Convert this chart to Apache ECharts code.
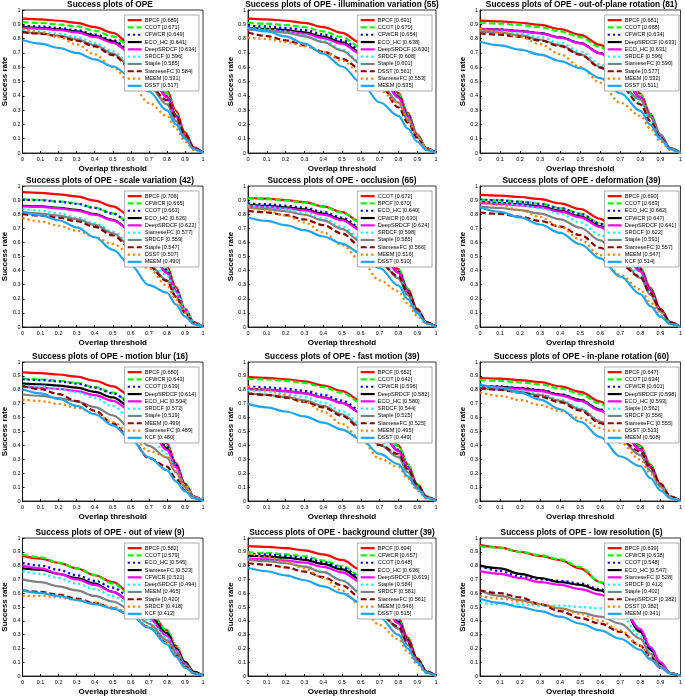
<!DOCTYPE html>
<html><head><meta charset="utf-8">
<script src="https://cdn.jsdelivr.net/npm/echarts@6/dist/echarts.min.js"></script>
<style>html,body{margin:0;padding:0;background:#fff}#c{width:685px;height:700px}</style>
</head><body><div id="c"></div>
<script>
// Overlap thresholds at which the success rates were read
const X = [0,0.1,0.2,0.3,0.4,0.5,0.6,0.7,0.8,0.85,0.9,0.95,1];

const P1_title = 'Success plots of OPE';
const P1_trackers = ['BPCF','CCOT','CFWCR','ECO_HC','DeepSRDCF','SRDCF','Staple','SiameseFC','MEEM','DSST'];
const P1_scores = [0.689,0.671,0.649,0.641,0.634,0.596,0.585,0.584,0.531,0.517];
const P1_curves = [
[0.94,0.935,0.925,0.91,0.88,0.84,0.76,0.63,0.44,0.295,0.145,0.04,0],
[0.915,0.91,0.90,0.885,0.855,0.815,0.745,0.625,0.42,0.275,0.13,0.033,0],
[0.89,0.885,0.875,0.86,0.83,0.79,0.72,0.60,0.40,0.265,0.125,0.032,0],
[0.88,0.875,0.865,0.85,0.82,0.78,0.71,0.59,0.395,0.26,0.12,0.03,0],
[0.875,0.87,0.86,0.843,0.812,0.77,0.70,0.58,0.39,0.255,0.12,0.03,0],
[0.86,0.85,0.835,0.81,0.77,0.71,0.62,0.49,0.35,0.23,0.11,0.03,0],
[0.846,0.836,0.82,0.795,0.755,0.695,0.605,0.475,0.34,0.225,0.11,0.03,0],
[0.845,0.835,0.815,0.785,0.745,0.685,0.595,0.475,0.37,0.25,0.13,0.035,0],
[0.87,0.845,0.81,0.76,0.69,0.60,0.49,0.35,0.26,0.17,0.08,0.02,0],
[0.79,0.765,0.735,0.70,0.655,0.605,0.535,0.43,0.30,0.20,0.10,0.025,0]];

const P2_title = 'Success plots of OPE - illumination variation (55)';
const P2_trackers = ['BPCF','CCOT','CFWCR','ECO_HC','DeepSRDCF','SRDCF','Staple','DSST','SiameseFC','MEEM'];
const P2_scores = [0.691,0.670,0.654,0.638,0.630,0.608,0.601,0.561,0.553,0.535];
const P2_curves = [
[0.94,0.935,0.925,0.91,0.88,0.84,0.77,0.65,0.42,0.28,0.13,0.033,0],
[0.91,0.905,0.895,0.88,0.85,0.81,0.74,0.62,0.41,0.27,0.125,0.031,0],
[0.89,0.885,0.875,0.86,0.83,0.79,0.72,0.60,0.40,0.264,0.122,0.03,0],
[0.874,0.869,0.859,0.844,0.814,0.774,0.704,0.584,0.392,0.258,0.119,0.03,0],
[0.864,0.859,0.849,0.834,0.804,0.764,0.694,0.574,0.388,0.255,0.118,0.03,0],
[0.875,0.865,0.85,0.825,0.785,0.725,0.635,0.505,0.356,0.234,0.112,0.03,0],
[0.866,0.856,0.841,0.816,0.776,0.716,0.626,0.496,0.352,0.232,0.111,0.03,0],
[0.843,0.818,0.788,0.753,0.708,0.658,0.588,0.483,0.32,0.213,0.107,0.027,0],
[0.807,0.797,0.777,0.747,0.707,0.647,0.557,0.437,0.353,0.239,0.124,0.033,0],
[0.875,0.85,0.815,0.765,0.695,0.605,0.495,0.355,0.26,0.17,0.08,0.02,0]];

const P3_title = 'Success plots of OPE - out-of-plane rotation (81)';
const P3_trackers = ['BPCF','CCOT','CFWCR','DeepSRDCF','ECO_HC','SRDCF','SiameseFC','Staple','MEEM','DSST'];
const P3_scores = [0.681,0.668,0.634,0.633,0.631,0.596,0.590,0.577,0.532,0.511];
const P3_curves = [
[0.926,0.921,0.911,0.896,0.866,0.826,0.756,0.636,0.416,0.274,0.126,0.032,0],
[0.91,0.905,0.895,0.88,0.85,0.81,0.74,0.62,0.408,0.269,0.124,0.031,0],
[0.869,0.864,0.854,0.839,0.809,0.769,0.699,0.579,0.39,0.257,0.118,0.03,0],
[0.868,0.863,0.853,0.838,0.808,0.768,0.698,0.578,0.39,0.256,0.118,0.03,0],
[0.866,0.861,0.851,0.836,0.806,0.766,0.696,0.576,0.389,0.256,0.118,0.03,0],
[0.86,0.85,0.835,0.81,0.77,0.71,0.62,0.49,0.35,0.23,0.11,0.03,0],
[0.852,0.842,0.822,0.792,0.752,0.692,0.602,0.482,0.373,0.252,0.131,0.035,0],
[0.837,0.827,0.812,0.787,0.747,0.687,0.597,0.467,0.34,0.224,0.107,0.029,0],
[0.871,0.846,0.811,0.761,0.691,0.601,0.491,0.351,0.26,0.17,0.08,0.02,0],
[0.778,0.753,0.723,0.688,0.643,0.593,0.523,0.418,0.295,0.197,0.098,0.025,0]];

const P4_title = 'Success plots of OPE - scale variation (42)';
const P4_trackers = ['BPCF','CFWCR','CCOT','ECO_HC','DeepSRDCF','SiameseFC','SRDCF','Staple','DSST','MEEM'];
const P4_scores = [0.706,0.665,0.663,0.626,0.623,0.577,0.559,0.547,0.507,0.490];
const P4_curves = [
[0.956,0.951,0.941,0.926,0.896,0.856,0.786,0.666,0.43,0.283,0.13,0.033,0],
[0.906,0.901,0.891,0.876,0.846,0.806,0.736,0.616,0.407,0.268,0.124,0.031,0],
[0.904,0.899,0.889,0.874,0.844,0.804,0.734,0.614,0.406,0.267,0.123,0.031,0],
[0.86,0.855,0.845,0.83,0.80,0.76,0.69,0.57,0.386,0.254,0.117,0.029,0],
[0.856,0.851,0.841,0.826,0.796,0.756,0.686,0.566,0.384,0.253,0.117,0.029,0],
[0.836,0.826,0.806,0.776,0.736,0.676,0.586,0.466,0.366,0.247,0.129,0.035,0],
[0.815,0.805,0.79,0.765,0.725,0.665,0.575,0.445,0.332,0.218,0.104,0.028,0],
[0.80,0.79,0.775,0.75,0.71,0.65,0.56,0.43,0.326,0.214,0.102,0.028,0],
[0.773,0.748,0.718,0.683,0.638,0.588,0.518,0.413,0.294,0.196,0.098,0.024,0],
[0.817,0.792,0.757,0.707,0.637,0.547,0.437,0.297,0.244,0.16,0.075,0.019,0]];

const P5_title = 'Success plots of OPE - occlusion (65)';
const P5_trackers = ['CCOT','BPCF','ECO_HC','CFWCR','DeepSRDCF','SRDCF','Staple','SiameseFC','MEEM','DSST'];
const P5_scores = [0.672,0.670,0.640,0.630,0.624,0.598,0.585,0.566,0.516,0.510];
const P5_curves = [
[0.915,0.91,0.90,0.885,0.855,0.815,0.745,0.625,0.41,0.27,0.125,0.031,0],
[0.912,0.907,0.897,0.882,0.852,0.812,0.742,0.622,0.41,0.27,0.124,0.031,0],
[0.876,0.871,0.861,0.846,0.816,0.776,0.706,0.586,0.393,0.259,0.119,0.03,0],
[0.864,0.859,0.849,0.834,0.804,0.764,0.694,0.574,0.388,0.255,0.118,0.03,0],
[0.857,0.852,0.842,0.827,0.797,0.757,0.687,0.567,0.385,0.253,0.117,0.029,0],
[0.862,0.852,0.837,0.812,0.772,0.712,0.622,0.492,0.351,0.231,0.11,0.03,0],
[0.846,0.836,0.821,0.796,0.756,0.696,0.606,0.476,0.344,0.226,0.108,0.03,0],
[0.823,0.813,0.793,0.763,0.723,0.663,0.573,0.453,0.36,0.244,0.127,0.034,0],
[0.851,0.826,0.791,0.741,0.671,0.581,0.471,0.331,0.254,0.166,0.078,0.02,0],
[0.777,0.752,0.722,0.687,0.642,0.592,0.522,0.417,0.295,0.197,0.098,0.025,0]];

const P6_title = 'Success plots of OPE - deformation (39)';
const P6_trackers = ['BPCF','CCOT','ECO_HC','CFWCR','DeepSRDCF','SRDCF','Staple','SiameseFC','MEEM','KCF'];
const P6_scores = [0.690,0.663,0.662,0.647,0.641,0.622,0.591,0.557,0.547,0.514];
const P6_curves = [
[0.937,0.932,0.922,0.907,0.877,0.837,0.767,0.647,0.42,0.277,0.128,0.032,0],
[0.904,0.899,0.889,0.874,0.844,0.804,0.734,0.614,0.406,0.267,0.123,0.031,0],
[0.903,0.898,0.888,0.873,0.843,0.803,0.733,0.613,0.405,0.267,0.123,0.031,0],
[0.885,0.88,0.87,0.855,0.825,0.785,0.715,0.595,0.397,0.261,0.121,0.03,0],
[0.878,0.873,0.863,0.848,0.818,0.778,0.708,0.588,0.394,0.259,0.12,0.03,0],
[0.892,0.882,0.867,0.842,0.802,0.742,0.652,0.522,0.363,0.239,0.114,0.031,0],
[0.854,0.844,0.829,0.804,0.764,0.704,0.614,0.484,0.348,0.228,0.109,0.03,0],
[0.812,0.802,0.782,0.752,0.712,0.652,0.562,0.442,0.356,0.24,0.125,0.034,0],
[0.89,0.865,0.83,0.78,0.71,0.62,0.51,0.37,0.266,0.174,0.082,0.02,0],
[0.847,0.817,0.777,0.727,0.667,0.587,0.487,0.357,0.233,0.148,0.074,0.021,0]];

const P7_title = 'Success plots of OPE - motion blur (16)';
const P7_trackers = ['BPCF','CFWCR','CCOT','DeepSRDCF','ECO_HC','SRDCF','Staple','MEEM','SiameseFC','KCF'];
const P7_scores = [0.680,0.643,0.639,0.614,0.594,0.573,0.519,0.499,0.489,0.480];
const P7_curves = [
[0.925,0.92,0.91,0.895,0.865,0.825,0.755,0.635,0.415,0.273,0.126,0.032,0],
[0.88,0.875,0.865,0.85,0.82,0.78,0.71,0.59,0.395,0.26,0.12,0.03,0],
[0.875,0.87,0.86,0.845,0.815,0.775,0.705,0.585,0.393,0.259,0.119,0.03,0],
[0.845,0.84,0.83,0.815,0.785,0.745,0.675,0.555,0.379,0.25,0.115,0.029,0],
[0.821,0.816,0.806,0.791,0.761,0.721,0.651,0.531,0.368,0.243,0.112,0.028,0],
[0.832,0.822,0.807,0.782,0.742,0.682,0.592,0.462,0.339,0.223,0.106,0.029,0],
[0.766,0.756,0.741,0.716,0.676,0.616,0.526,0.396,0.312,0.205,0.098,0.027,0],
[0.829,0.804,0.769,0.719,0.649,0.559,0.449,0.309,0.248,0.162,0.076,0.019,0],
[0.729,0.719,0.699,0.669,0.629,0.569,0.479,0.359,0.319,0.216,0.112,0.03,0],
[0.804,0.774,0.734,0.684,0.624,0.544,0.444,0.314,0.221,0.141,0.07,0.02,0]];

const P8_title = 'Success plots of OPE - fast motion (39)';
const P8_trackers = ['BPCF','CCOT','CFWCR','DeepSRDCF','ECO_HC','SRDCF','Staple','SiameseFC','MEEM','DSST'];
const P8_scores = [0.652,0.642,0.596,0.582,0.580,0.544,0.525,0.525,0.495,0.449];
const P8_curves = [
[0.891,0.886,0.876,0.861,0.831,0.791,0.721,0.601,0.40,0.263,0.121,0.03,0],
[0.879,0.874,0.864,0.849,0.819,0.779,0.709,0.589,0.395,0.26,0.12,0.03,0],
[0.823,0.818,0.808,0.793,0.763,0.723,0.653,0.533,0.369,0.243,0.112,0.028,0],
[0.806,0.801,0.791,0.776,0.746,0.706,0.636,0.516,0.362,0.238,0.11,0.027,0],
[0.804,0.799,0.789,0.774,0.744,0.704,0.634,0.514,0.361,0.238,0.11,0.027,0],
[0.797,0.787,0.772,0.747,0.707,0.647,0.557,0.427,0.324,0.213,0.102,0.028,0],
[0.774,0.764,0.749,0.724,0.684,0.624,0.534,0.404,0.315,0.207,0.099,0.027,0],
[0.773,0.763,0.743,0.713,0.673,0.613,0.523,0.403,0.338,0.229,0.119,0.032,0],
[0.824,0.799,0.764,0.714,0.644,0.554,0.444,0.304,0.246,0.161,0.076,0.019,0],
[0.699,0.674,0.644,0.609,0.564,0.514,0.444,0.339,0.265,0.177,0.088,0.022,0]];

const P9_title = 'Success plots of OPE - in-plane rotation (60)';
const P9_trackers = ['BPCF','CCOT','CFWCR','DeepSRDCF','ECO_HC','Staple','SRDCF','SiameseFC','DSST','MEEM'];
const P9_scores = [0.647,0.634,0.601,0.598,0.593,0.562,0.556,0.555,0.513,0.508];
const P9_curves = [
[0.885,0.88,0.87,0.855,0.825,0.785,0.715,0.595,0.397,0.261,0.121,0.03,0],
[0.869,0.864,0.854,0.839,0.809,0.769,0.699,0.579,0.39,0.257,0.118,0.03,0],
[0.829,0.824,0.814,0.799,0.769,0.729,0.659,0.539,0.372,0.245,0.113,0.028,0],
[0.826,0.821,0.811,0.796,0.766,0.726,0.656,0.536,0.371,0.244,0.113,0.028,0],
[0.82,0.815,0.805,0.79,0.76,0.72,0.65,0.53,0.368,0.242,0.112,0.028,0],
[0.819,0.809,0.794,0.769,0.729,0.669,0.579,0.449,0.333,0.219,0.105,0.029,0],
[0.811,0.801,0.786,0.761,0.721,0.661,0.571,0.441,0.33,0.217,0.104,0.028,0],
[0.81,0.80,0.78,0.75,0.71,0.65,0.56,0.44,0.355,0.24,0.125,0.034,0],
[0.781,0.756,0.726,0.691,0.646,0.596,0.526,0.421,0.297,0.198,0.099,0.025,0],
[0.84,0.815,0.78,0.73,0.66,0.57,0.46,0.32,0.25,0.164,0.077,0.019,0]];

const P10_title = 'Success plots of OPE - out of view (9)';
const P10_trackers = ['BPCF','CCOT','ECO_HC','SiameseFC','CFWCR','DeepSRDCF','MEEM','Staple','SRDCF','KCF'];
const P10_scores = [0.582,0.579,0.545,0.523,0.521,0.494,0.465,0.420,0.418,0.412];
const P10_curves = [
[0.87,0.85,0.82,0.78,0.73,0.68,0.60,0.48,0.33,0.22,0.10,0.03,0],
[0.88,0.86,0.82,0.78,0.73,0.67,0.59,0.47,0.33,0.22,0.10,0.03,0],
[0.82,0.80,0.77,0.73,0.69,0.64,0.57,0.45,0.31,0.20,0.09,0.02,0],
[0.78,0.77,0.74,0.71,0.67,0.61,0.54,0.44,0.31,0.20,0.10,0.03,0],
[0.80,0.78,0.74,0.70,0.66,0.61,0.54,0.42,0.29,0.19,0.09,0.02,0],
[0.76,0.74,0.71,0.67,0.63,0.58,0.51,0.40,0.28,0.18,0.08,0.02,0],
[0.70,0.68,0.65,0.62,0.58,0.54,0.48,0.38,0.26,0.17,0.08,0.02,0],
[0.62,0.61,0.59,0.56,0.53,0.49,0.44,0.35,0.24,0.15,0.07,0.02,0],
[0.58,0.58,0.57,0.55,0.53,0.50,0.45,0.36,0.24,0.15,0.07,0.02,0],
[0.62,0.60,0.58,0.55,0.52,0.49,0.44,0.35,0.23,0.14,0.06,0.02,0]];

const P11_title = 'Success plots of OPE - background clutter (39)';
const P11_trackers = ['BPCF','CFWCR','CCOT','ECO_HC','DeepSRDCF','Staple','SRDCF','SiameseFC','MEEM','DSST'];
const P11_scores = [0.694,0.657,0.648,0.636,0.619,0.584,0.581,0.561,0.546,0.515];
const P11_curves = [
[0.941,0.936,0.926,0.911,0.881,0.841,0.771,0.651,0.422,0.278,0.128,0.032,0],
[0.897,0.892,0.882,0.867,0.837,0.797,0.727,0.607,0.403,0.265,0.122,0.031,0],
[0.886,0.881,0.871,0.856,0.826,0.786,0.716,0.596,0.398,0.262,0.121,0.03,0],
[0.872,0.867,0.857,0.842,0.812,0.772,0.702,0.582,0.391,0.258,0.119,0.03,0],
[0.851,0.846,0.836,0.821,0.791,0.751,0.681,0.561,0.382,0.251,0.116,0.029,0],
[0.845,0.835,0.82,0.795,0.755,0.695,0.605,0.475,0.344,0.226,0.108,0.029,0],
[0.842,0.832,0.817,0.792,0.752,0.692,0.602,0.472,0.343,0.225,0.108,0.029,0],
[0.817,0.807,0.787,0.757,0.717,0.657,0.567,0.447,0.358,0.242,0.126,0.034,0],
[0.889,0.864,0.829,0.779,0.709,0.619,0.509,0.369,0.266,0.174,0.082,0.02,0],
[0.784,0.759,0.729,0.694,0.649,0.599,0.529,0.424,0.298,0.199,0.099,0.025,0]];

const P12_title = 'Success plots of OPE - low resolution (5)';
const P12_trackers = ['BPCF','CFWCR','CCOT','ECO_HC','SiameseFC','SRDCF','Staple','DeepSRDCF','DSST','MEEM'];
const P12_scores = [0.639,0.638,0.548,0.547,0.528,0.412,0.402,0.382,0.382,0.341];
const P12_curves = [
[0.95,0.93,0.90,0.87,0.84,0.78,0.68,0.54,0.33,0.20,0.09,0.02,0],
[0.94,0.93,0.90,0.875,0.845,0.79,0.68,0.53,0.32,0.19,0.09,0.02,0],
[0.80,0.76,0.72,0.70,0.69,0.67,0.63,0.52,0.33,0.20,0.09,0.02,0],
[0.80,0.78,0.74,0.71,0.68,0.66,0.62,0.52,0.32,0.19,0.09,0.02,0],
[0.76,0.74,0.71,0.68,0.66,0.63,0.59,0.50,0.34,0.21,0.10,0.02,0],
[0.53,0.52,0.52,0.51,0.51,0.50,0.49,0.44,0.29,0.17,0.07,0.02,0],
[0.62,0.58,0.55,0.52,0.49,0.46,0.43,0.38,0.27,0.16,0.07,0.02,0],
[0.62,0.60,0.57,0.52,0.47,0.42,0.38,0.32,0.22,0.14,0.06,0.02,0],
[0.58,0.56,0.54,0.52,0.49,0.45,0.40,0.33,0.22,0.13,0.06,0.02,0],
[0.56,0.53,0.50,0.47,0.43,0.38,0.33,0.27,0.19,0.12,0.06,0.02,0]];

const X_TICKS = [0,0.1,0.2,0.3,0.4,0.5,0.6,0.7,0.8,0.9,1];
const Y_TICKS = [0,0.1,0.2,0.3,0.4,0.5,0.6,0.7,0.8,0.9,1];

// ---- styles / layout (not data) ----
const COLORS = ['#ff0000','#00ff00','#0000ff','#000000','#ff00ff','#00ffff','#808080','#880000','#ff8000','#1ea5f0'];
const DASH = ['solid',[6,3],[2.2,3],'solid','solid',[2.2,3],'solid',[6,3],[2.2,3],'solid'];
const COL_L = [17, 248, 480], COL_W = [186, 188, 203];
const ROW_T = [10, 186, 362, 538], ROW_H = [143, 141, 139, 138];
const FONT = 'Liberation Sans, Arial, Helvetica, sans-serif';

const panels = [
 [P1_title,P1_trackers,P1_scores,P1_curves],[P2_title,P2_trackers,P2_scores,P2_curves],[P3_title,P3_trackers,P3_scores,P3_curves],
 [P4_title,P4_trackers,P4_scores,P4_curves],[P5_title,P5_trackers,P5_scores,P5_curves],[P6_title,P6_trackers,P6_scores,P6_curves],
 [P7_title,P7_trackers,P7_scores,P7_curves],[P8_title,P8_trackers,P8_scores,P8_curves],[P9_title,P9_trackers,P9_scores,P9_curves],
 [P10_title,P10_trackers,P10_scores,P10_curves],[P11_title,P11_trackers,P11_scores,P11_curves],[P12_title,P12_trackers,P12_scores,P12_curves]];

const grid=[], xAxis=[], yAxis=[], series=[], legend=[], title=[];
panels.forEach((p, i) => {
  const r = Math.floor(i/3), c = i%3;
  const L = COL_L[c], W = COL_W[c], T = ROW_T[r], H = ROW_H[r];
  grid.push({left:L, top:T, width:W, height:H, show:true, borderColor:'#000', borderWidth:0.8, backgroundColor:'#fff'});
  title.push({text:p[0], left:L+W/2, top:T-10, textAlign:'center', padding:0,
    textStyle:{fontFamily:FONT, fontSize:8.3, lineHeight:9, fontWeight:'bold', color:'#000'}});
  xAxis.push({gridIndex:i, type:'value', min:0, max:1, interval:0.1,
    name:'Overlap threshold', nameLocation:'middle', nameGap:12,
    nameTextStyle:{fontFamily:FONT, fontSize:8, fontWeight:'bold', color:'#000'},
    axisLine:{lineStyle:{color:'#000', width:0.8}}, axisTick:{inside:true, length:2, lineStyle:{color:'#000'}},
    splitLine:{show:false},
    axisLabel:{fontFamily:FONT, fontSize:5.5, color:'#000', margin:3,
      customValues:X_TICKS, formatter:v=>String(+v.toFixed(1))}});
  yAxis.push({gridIndex:i, type:'value', min:0, max:1, interval:0.1,
    name:'Success rate', nameLocation:'middle', nameGap:11,
    nameTextStyle:{fontFamily:FONT, fontSize:8, fontWeight:'bold', color:'#000'},
    axisLine:{lineStyle:{color:'#000', width:0.8}}, axisTick:{inside:true, length:2, lineStyle:{color:'#000'}},
    splitLine:{show:false},
    axisLabel:{fontFamily:FONT, fontSize:5.5, color:'#000', margin:2,
      customValues:Y_TICKS, formatter:v=>String(+v.toFixed(1))}});
  const names = [];
  p[1].forEach((t, k) => {
    const nm = t + ' [' + p[2][k].toFixed(3) + ']';
    const ls = {color:COLORS[k], width:2.2, type:DASH[k]};
    names.push({name:nm, itemStyle:{color:COLORS[k], opacity:0}, lineStyle:{color:COLORS[k], width:2.2, type:DASH[k]}});
    series.push({type:'line', name:nm, xAxisIndex:i, yAxisIndex:i, showSymbol:false, symbol:'none',
      smooth:0.35, smoothMonotone:'x', animation:false, silent:true, lineStyle:ls, itemStyle:{color:COLORS[k]},
      data:X.map((x, j) => [x, p[3][k][j]])});
  });
  legend.push({data:names, orient:'vertical', right:685-(L+W)+4, top:T+5, itemWidth:14, itemHeight:4,
    itemGap:1, padding:[2,3,2,2], backgroundColor:'#fff', borderColor:'#999', borderWidth:0.8,
    selectedMode:false, textStyle:{fontFamily:FONT, fontSize:5.6, lineHeight:6.3, color:'#000', padding:[0,0,0,-2]}});
});

const chart = echarts.init(document.getElementById('c'));
chart.setOption({animation:false, backgroundColor:'#fff', title, grid, xAxis, yAxis, legend, series});
</script></body></html>
